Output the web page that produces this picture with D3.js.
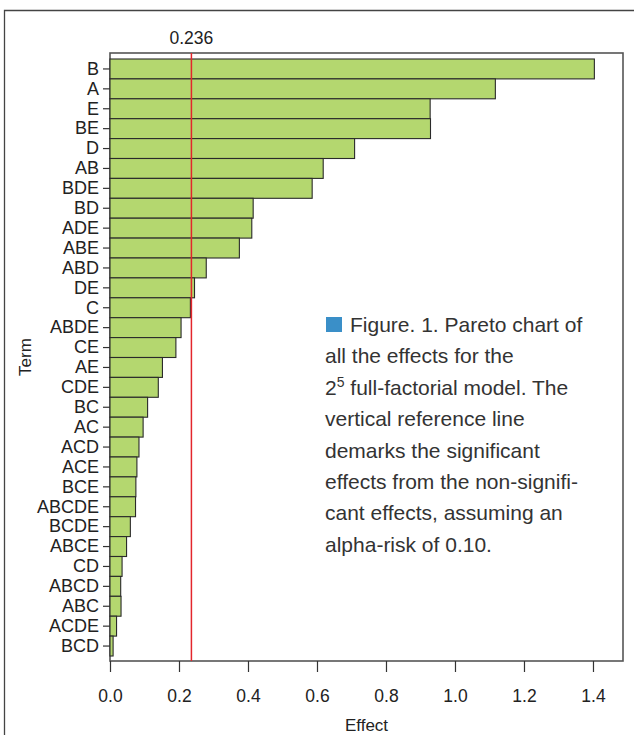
<!DOCTYPE html>
<html>
<head>
<meta charset="utf-8">
<script src="https://cdn.jsdelivr.net/npm/d3@7"></script>
<style>
  html, body { margin: 0; padding: 0; background: #fff; }
  svg { display: block; }
</style>
</head>
<body>
<svg id="chart" width="634" height="735"></svg>
<script>
// Standardised effects, ordered largest to smallest
const terms = ["B","A","E","BE","D","AB","BDE","BD","ADE","ABE","ABD","DE","C","ABDE","CE","AE","CDE","BC","AC","ACD","ACE","BCE","ABCDE","BCDE","ABCE","CD","ABCD","ABC","ACDE","BCD"];
const effects = [1.404,1.117,0.928,0.929,0.709,0.618,0.586,0.415,0.411,0.375,0.279,0.245,0.233,0.206,0.191,0.152,0.140,0.109,0.096,0.084,0.078,0.075,0.074,0.059,0.048,0.035,0.031,0.032,0.019,0.009];
const xTicks = [0,0.2,0.4,0.6,0.8,1.0,1.2,1.4];
const refValue = 0.236;
const captionLines = [
  "Figure. 1. Pareto chart of",
  "all the effects for the",
  "2|5| full-factorial model. The",
  "vertical reference line",
  "demarks the significant",
  "effects from the non-signifi-",
  "cant effects, assuming an",
  "alpha-risk of 0.10."
];

const svg = d3.select("#chart");
const font = "'Liberation Sans', Arial, Helvetica, sans-serif";
const plot = { left: 110, right: 623, top: 53, bottom: 661 };

// outer frame (left and top edges visible)
svg.append("path")
  .attr("d", "M4.5,740 L4.5,10.5 L640,10.5")
  .attr("fill", "none").attr("stroke", "#444").attr("stroke-width", 1.3);

const x = d3.scaleLinear().domain([0, 1.487]).range([plot.left, plot.right]);
const y = d3.scaleBand().domain(terms).range([59, 656]).padding(0);

// plot box
svg.append("rect")
  .attr("x", plot.left).attr("y", plot.top)
  .attr("width", plot.right - plot.left).attr("height", plot.bottom - plot.top)
  .attr("fill", "none").attr("stroke", "#555").attr("stroke-width", 1.6);

// bars
svg.append("g").selectAll("rect")
  .data(terms)
  .join("rect")
  .attr("x", x(0))
  .attr("y", d => y(d))
  .attr("width", (d, i) => x(effects[i]) - x(0))
  .attr("height", y.bandwidth())
  .attr("fill", "#b4d76f")
  .attr("stroke", "#2a2a2a")
  .attr("stroke-width", 1.1);

// reference line
svg.append("line")
  .attr("x1", x(refValue)).attr("x2", x(refValue))
  .attr("y1", plot.top).attr("y2", plot.bottom)
  .attr("stroke", "#e3262c").attr("stroke-width", 1.5);

svg.append("text")
  .attr("x", x(refValue)).attr("y", 44)
  .attr("text-anchor", "middle")
  .attr("font-family", font).attr("font-size", 17.5).attr("fill", "#222")
  .text(refValue.toFixed(3));

// y axis
const yAxis = svg.append("g")
  .attr("transform", `translate(${plot.left},0)`)
  .call(d3.axisLeft(y).tickSize(7).tickPadding(4));
yAxis.select(".domain").remove();
yAxis.selectAll("line").attr("stroke", "#333").attr("stroke-width", 1.2);
yAxis.selectAll("text")
  .attr("font-family", font).attr("font-size", 18).attr("fill", "#222");

// x axis
const xAxis = svg.append("g")
  .attr("transform", `translate(0,${plot.bottom})`)
  .call(d3.axisBottom(x).tickValues(xTicks).tickFormat(d3.format(".1f")).tickSize(11).tickPadding(18));
xAxis.select(".domain").remove();
xAxis.selectAll("line").attr("stroke", "#333").attr("stroke-width", 1.2);
xAxis.selectAll("text")
  .attr("font-family", font).attr("font-size", 17.5).attr("fill", "#222");

// axis titles
svg.append("text")
  .attr("x", (plot.left + plot.right) / 2).attr("y", 731)
  .attr("text-anchor", "middle")
  .attr("font-family", font).attr("font-size", 17).attr("fill", "#222")
  .text("Effect");

svg.append("text")
  .attr("transform", `translate(31,${(plot.top + plot.bottom) / 2}) rotate(-90)`)
  .attr("text-anchor", "middle")
  .attr("font-family", font).attr("font-size", 17).attr("fill", "#222")
  .text("Term");

// caption block
const cap = svg.append("g");
cap.append("rect")
  .attr("x", 326).attr("y", 317).attr("width", 16).attr("height", 15)
  .attr("fill", "#3a8fc8");
captionLines.forEach((line, i) => {
  const t = cap.append("text")
    .attr("x", i === 0 ? 350 : 325)
    .attr("y", 332 + i * 31.4)
    .attr("font-family", font).attr("font-size", 21).attr("fill", "#333");
  const parts = line.split("|");
  if (parts.length === 3) {
    t.append("tspan").text(parts[0]);
    t.append("tspan").attr("dy", -8).attr("font-size", 14).text(parts[1]);
    t.append("tspan").attr("dy", 8).text(parts[2]);
  } else {
    t.text(line);
  }
});
</script>
</body>
</html>
